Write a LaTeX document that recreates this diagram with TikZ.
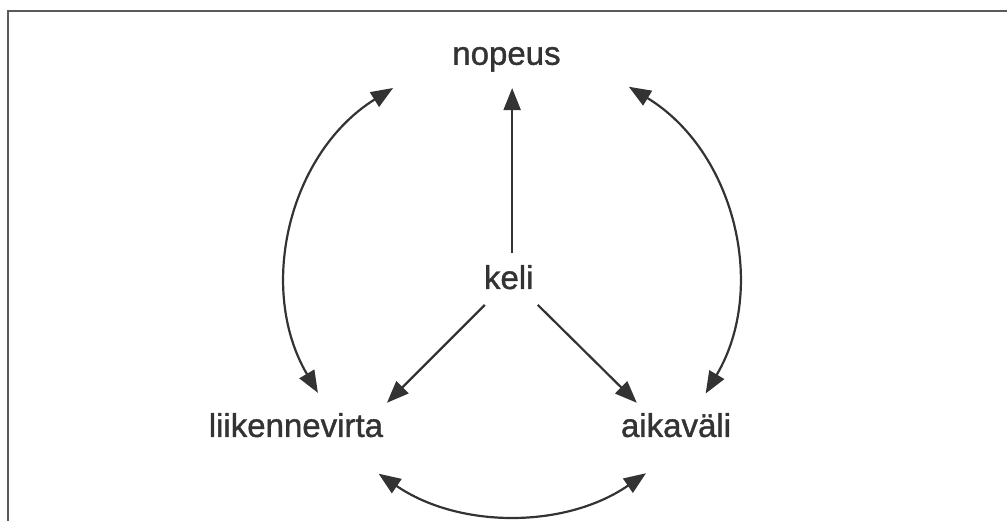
\documentclass[tikz,border=0pt]{standalone}
\usepackage{fontspec}
\setmainfont{Liberation Sans}[FakeBold=1.2]
\usetikzlibrary{arrows.meta}
\definecolor{InkGray}{HTML}{333333}
\definecolor{FrameGray}{HTML}{5A5A5A}
\tikzset{
  lbl/.style={font=\fontsize{16.5}{20}\selectfont, text=InkGray, inner sep=0pt, anchor=base},
  arr/.style={draw=InkGray, line width=1.1pt, -{Triangle[length=11pt,width=8.5pt]}},
  twoway/.style={draw=InkGray, line width=1.1pt,
    {Triangle[length=11pt,width=8.5pt]}-{Triangle[length=11pt,width=8.5pt]}}
}
\begin{document}
\begin{tikzpicture}
  \useasboundingbox (0,0) rectangle (17.696,9.138);
  % Frame (only left and top edges are on the page)
  \draw[FrameGray, line width=1pt] (0.132,-0.5) |- (18.2,8.945);

  % Labels
  \node[lbl] (nopeus) at (8.90,8.00) {nopeus};
  \node[lbl] (keli)   at (8.94,4.06) {keli};
  \node[lbl] (virta)  at (5.20,1.46) {liikennevirta};
  \node[lbl] (vali)   at (11.88,1.46) {aikaväli};
  \coordinate (hub) at (8.997,4.235);

  % Effect of keli
  \draw[arr] ([shift={(0.06,0.63)}]keli.base) -- ([shift={(0.10,-0.41)}]nopeus.base);
  \draw[arr] ([shift={(-0.42,-0.28)}]keli.base) -- ([shift={(1.60,0.60)}]virta.base);
  \draw[arr] ([shift={(0.51,-0.28)}]keli.base) -- ([shift={(-0.69,0.60)}]vali.base);

  % Mutual relations (arcs round the hub)
  \draw[twoway] ([shift={(210.4:3.954)}]hub) arc[start angle=210.4, end angle=121.9, radius=3.954];
  \draw[twoway] ([shift={(-30.6:3.954)}]hub) arc[start angle=-30.6, end angle=58.7, radius=3.954];
  \draw[twoway] ([shift={(235.6:4.147)}]hub) arc[start angle=235.6, end angle=304.6, radius=4.147];
\end{tikzpicture}
\end{document}
